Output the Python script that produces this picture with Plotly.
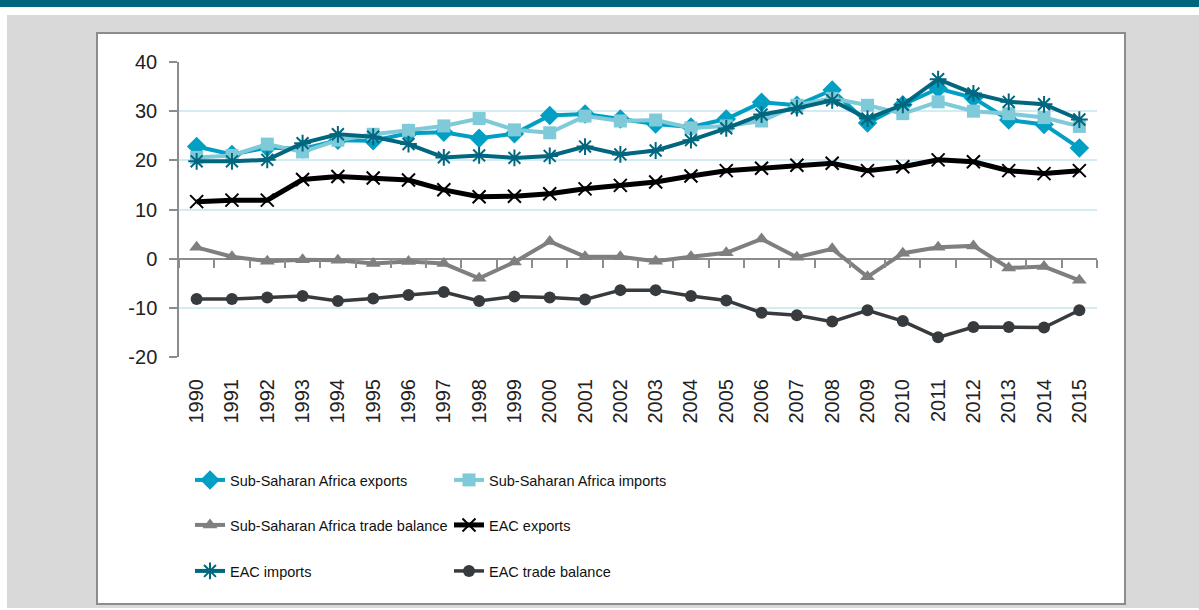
import plotly.graph_objects as go

# Trade as share of GDP, 1990-2015
years = [str(y) for y in range(1990, 2016)]

ssa_exports = [22.8, 21.2, 22.6, 22.3, 24.1, 24.0, 25.5, 25.7, 24.5, 25.4, 29.1, 29.4, 28.4,
               27.4, 26.8, 28.4, 31.8, 31.2, 34.3, 27.6, 31.3, 34.6, 32.7, 28.2, 27.3, 22.5]
ssa_imports = [20.6, 21.0, 23.3, 21.7, 24.1, 25.3, 26.1, 27.0, 28.5, 26.2, 25.6, 29.0, 28.0,
               28.2, 26.6, 27.0, 28.0, 31.2, 32.6, 31.2, 29.5, 31.9, 30.0, 29.5, 28.7, 26.9]
ssa_balance = [2.3, 0.4, -0.5, -0.2, -0.3, -1.0, -0.6, -1.0, -4.0, -0.7, 3.5, 0.4, 0.4,
               -0.5, 0.4, 1.2, 4.0, 0.3, 2.0, -3.7, 1.1, 2.3, 2.6, -1.9, -1.6, -4.4]
eac_exports = [11.6, 11.9, 11.9, 16.1, 16.7, 16.4, 16.0, 14.0, 12.6, 12.7, 13.2, 14.2, 14.9,
               15.6, 16.8, 17.9, 18.4, 19.0, 19.4, 17.9, 18.7, 20.1, 19.7, 17.9, 17.3, 17.9]
eac_imports = [19.8, 19.8, 20.1, 23.5, 25.3, 24.8, 23.3, 20.6, 21.0, 20.5, 20.9, 22.8, 21.2,
               22.0, 24.1, 26.5, 29.3, 30.6, 32.2, 28.5, 31.3, 36.5, 33.6, 31.9, 31.4, 28.3]
eac_balance = [-8.2, -8.2, -7.9, -7.6, -8.6, -8.1, -7.4, -6.8, -8.6, -7.7, -7.9, -8.3, -6.4,
               -6.4, -7.6, -8.5, -11.0, -11.5, -12.8, -10.5, -12.7, -16.0, -13.9, -13.9, -14.0, -10.5]

# y ticks with plain hyphen, as in the source
y_ticks = [-20, -10, 0, 10, 20, 30, 40]
y_labels = ["-20", "-10", "0", "10", "20", "30", "40"]

# plot area in pixels
L, R, T, B = 179, 1097, 62, 357
W, H = R - L, B - T


def px(x):
    return (x - L) / W


def py(y):
    return (B - y) / H


font_ax = "Liberation Sans, Arial, sans-serif"

series = [
    ("Sub-Saharan Africa exports", ssa_exports, "#009fc3", "diamond", 15, 4, "legend"),
    ("Sub-Saharan Africa imports", ssa_imports, "#7fcad8", "square", 13, 4, "legend"),
    ("Sub-Saharan Africa trade balance", ssa_balance, "#7f7f7f", "triangle-up", 13, 4, "legend2"),
    ("EAC exports", eac_exports, "#000000", "x-thin", 13, 5, "legend2"),
    ("EAC imports", eac_imports, "#00677f", "asterisk", 14, 4, "legend3"),
    ("EAC trade balance", eac_balance, "#383b3e", "circle", 12, 3.5, "legend3"),
]

fig = go.Figure()
for name, vals, col, sym, size, lw, leg in series:
    marker = dict(symbol=sym, size=size, color=col)
    if sym in ("x-thin", "asterisk"):
        marker["line"] = dict(width=2, color=col)
    fig.add_trace(go.Scatter(x=years, y=vals, name=name, mode="lines+markers",
                             line=dict(color=col, width=lw), marker=marker, legend=leg))

# helper trace so the zero-line axis gets the categories
fig.add_trace(go.Scatter(x=years, y=ssa_balance, xaxis="x2", mode="lines",
                         line=dict(width=0), opacity=0, showlegend=False, hoverinfo="skip"))

shapes = [
    dict(type="rect", xref="paper", yref="paper", x0=px(7), x1=px(1205), y0=py(608), y1=py(15),
         fillcolor="#d9d9d9", line=dict(width=0), layer="below"),
    dict(type="rect", xref="paper", yref="paper", x0=px(97), x1=px(1125), y0=py(604), y1=py(33),
         fillcolor="white", line=dict(width=2, color="#8c8c8c"), layer="below"),
    dict(type="rect", xref="paper", yref="paper", x0=px(-5), x1=px(1205), y0=py(7), y1=py(-5),
         fillcolor="#006680", line=dict(width=0), layer="below"),
]

leg_common = dict(orientation="h", xanchor="left", yanchor="middle", entrywidth=214,
                  entrywidthmode="pixels", bgcolor="rgba(0,0,0,0)",
                  font=dict(family="Liberation Sans", size=14.5, color="#111"))

fig.update_layout(
    width=1199, height=610,
    margin=dict(l=L, r=1199 - R, t=T, b=610 - B, autoexpand=False),
    paper_bgcolor="white", plot_bgcolor="rgba(0,0,0,0)",
    shapes=shapes,
    showlegend=True,
    legend=dict(x=px(190), y=py(480), **leg_common),
    legend2=dict(x=px(190), y=py(525), **leg_common),
    legend3=dict(x=px(190), y=py(571), **leg_common),
    xaxis=dict(type="category", categoryorder="array", categoryarray=years, range=[-0.5, 25.5],
               showline=False, showgrid=False, zeroline=False, ticks="",
               tickangle=-90, ticklabelstandoff=17,
               tickfont=dict(family=font_ax, size=20, color="#222")),
    xaxis2=dict(type="category", categoryorder="array", categoryarray=years,
                overlaying="x", matches="x", anchor="free", position=1 / 3, side="bottom",
                showline=False, showgrid=False, zeroline=False, showticklabels=False,
                ticks="outside", tickson="boundaries", ticklen=8, tickcolor="#8c8c8c", tickwidth=1.5),
    yaxis=dict(range=[-20, 40], tickvals=y_ticks, ticktext=y_labels,
               showline=True, linecolor="#8c8c8c", linewidth=1.5,
               ticks="outside", ticklen=8, tickcolor="#8c8c8c", tickwidth=1.5,
               showgrid=True, gridcolor="#d3ebf2", gridwidth=1.5,
               zeroline=True, zerolinecolor="#8c8c8c", zerolinewidth=1.5,
               ticklabelstandoff=8,
               tickfont=dict(family=font_ax, size=20, color="#222")),
    hovermode="closest",
)

fig.write_html("out.html", config={"displayModeBar": False},
               post_script="document.body.style.margin='0';")
